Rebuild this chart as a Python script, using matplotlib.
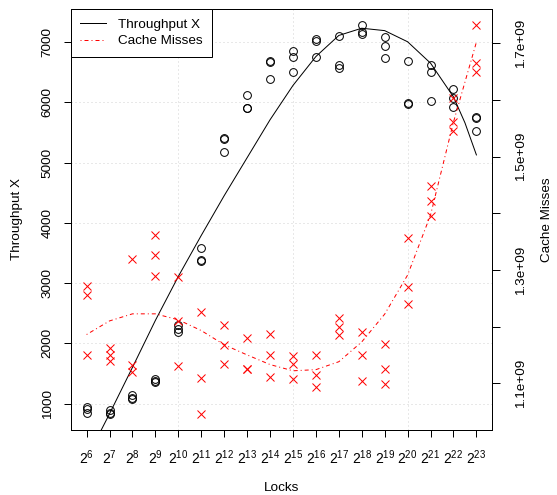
import numpy as np
import matplotlib
matplotlib.use("Agg")
import matplotlib.pyplot as plt
from matplotlib.lines import Line2D

plt.rcParams["font.family"] = ["Liberation Sans", "DejaVu Sans"]
plt.rcParams["mathtext.fontset"] = "custom"
plt.rcParams["mathtext.rm"] = "Liberation Sans"
plt.rcParams["mathtext.it"] = "Liberation Sans:italic"

# ---- data (exponent of 2 for the lock count) ----
exponents = list(range(6, 24))

throughput = [
    [950, 910, 840],      # 2^6
    [885, 850, 820],      # 2^7
    [1150, 1100, 1070],   # 2^8
    [1410, 1380, 1360],   # 2^9
    [2300, 2230, 2190],   # 2^10
    [3590, 3390, 3370],   # 2^11
    [5400, 5390, 5170],   # 2^12
    [6120, 5910, 5910],   # 2^13
    [6690, 6670, 6380],   # 2^14
    [6855, 6750, 6500],   # 2^15
    [7045, 7015, 6760],   # 2^16
    [7105, 6620, 6565],   # 2^17
    [7290, 7170, 7135],   # 2^18
    [7085, 6935, 6735],   # 2^19
    [6685, 5985, 5975],   # 2^20
    [6620, 6510, 6020],   # 2^21
    [6215, 6070, 5925],   # 2^22
    [5760, 5745, 5530],   # 2^23
]

cache_misses = [  # units of 1e9
    [1.271, 1.256, 1.149],
    [1.162, 1.149, 1.139],
    [1.320, 1.133, 1.120],
    [1.361, 1.327, 1.290],
    [1.288, 1.210, 1.131],
    [1.225, 1.110, 1.045],
    [1.203, 1.167, 1.134],
    [1.179, 1.125, 1.125],
    [1.187, 1.149, 1.111],
    [1.148, 1.134, 1.108],
    [1.149, 1.114, 1.094],
    [1.215, 1.199, 1.185],
    [1.191, 1.150, 1.104],
    [1.169, 1.125, 1.098],
    [1.357, 1.269, 1.240],
    [1.449, 1.422, 1.395],
    [1.604, 1.561, 1.545],
    [1.733, 1.665, 1.649],
]

# fitted throughput curve
fit_x = [6, 7, 8, 9, 10, 11, 12, 13, 14, 15, 16, 17, 18, 19, 20, 21, 22, 22.5, 23]
fit_y = [85, 830, 1600, 2380, 3110, 3790, 4450, 5080, 5710, 6280, 6760, 7110, 7230,
         7190, 7005, 6650, 6090, 5660, 5127]

# smoothed cache-miss curve (units of 1e9)
smooth_x = exponents
smooth_y = [1.186, 1.210, 1.2225, 1.2225, 1.212, 1.193, 1.168, 1.150, 1.133, 1.122,
            1.124, 1.138, 1.173, 1.222, 1.291, 1.397, 1.561, 1.702]

# ---- figure ----
W, H = 557, 495
fig = plt.figure(figsize=(W / 100, H / 100), dpi=100)
L, R, T, B = 71, 492, 9, 430
ax = fig.add_axes([L / W, 1 - B / H, (R - L) / W, (B - T) / H])
ax2 = ax.twinx()

px = 0.72  # one pixel in points
fs = 9.7

# throughput points
for e, vals in zip(exponents, throughput):
    ax.plot([e] * len(vals), vals, linestyle="none", marker="o", ms=5.6,
            mfc="none", mec="black", mew=px)
ax.plot(fit_x, fit_y, color="black", lw=px)

ax.set_xlim(5.32, 23.68)
ax.set_ylim(561, 7549)
ax.set_xticks(exponents)
ax.set_xticklabels([r"$\mathregular{2^{%d}}$" % e for e in exponents], fontsize=fs + 0.3)
ax.set_yticks([1000, 2000, 3000, 4000, 5000, 6000, 7000])
ax.set_yticklabels(["1000", "2000", "3000", "4000", "5000", "6000", "7000"],
                   fontsize=fs, rotation=90, va="center")
ax.tick_params(axis="x", length=5, width=px, pad=8)
ax.tick_params(axis="y", length=5, width=px, pad=7.5)

# dotted grid
for g in [10, 15, 20]:
    ax.axvline(g, color="lightgray", lw=px, ls=(0, (1, 3)), zorder=0)
for g in [1000, 2000, 3000, 4000, 5000, 6000, 7000]:
    ax.axhline(g, color="lightgray", lw=px, ls=(0, (1, 3)), zorder=0)

# cache misses
for e, vals in zip(exponents, cache_misses):
    ax2.plot([e] * len(vals), vals, linestyle="none", marker="x", ms=5.6,
             mec="red", mew=px)
ax2.plot(smooth_x, smooth_y, color="red", lw=px, ls=(0, (1, 3, 4, 3)))
ax2.set_ylim(1.0175, 1.7605)
rticks = [1.1, 1.2, 1.3, 1.4, 1.5, 1.6, 1.7]
ax2.set_yticks(rticks)
ax2.set_yticklabels(["1.1e+09", "", "1.3e+09", "", "1.5e+09", "", "1.7e+09"],
                    fontsize=fs, rotation=90, va="center")
ax2.tick_params(axis="y", length=5.5, width=px, pad=11)

for a in (ax, ax2):
    for s in a.spines.values():
        s.set_linewidth(px)

ax.set_xlabel("Locks", fontsize=fs)
ax.xaxis.set_label_coords(0.5, -(488 - B) / (B - T))
ax.xaxis.label.set_va("center")
ax.set_ylabel("Throughput X", fontsize=fs)
ax.yaxis.set_label_coords(-(L - 17) / (R - L), 0.5)
ax.yaxis.label.set_va("center")
ax2.set_ylabel("Cache Misses", fontsize=fs, rotation=90)
ax2.yaxis.set_label_coords(1 + (547 - R) / (R - L), 0.5)
ax2.yaxis.label.set_va("center")

handles = [
    Line2D([], [], color="black", lw=px),
    Line2D([], [], color="red", lw=px, ls=(0, (1, 3, 4, 3))),
]
leg = ax2.legend(handles, ["Throughput X", "Cache Misses"], loc="upper left",
                 bbox_to_anchor=(0, 1), borderaxespad=0, fontsize=fs,
                 fancybox=False, framealpha=1, edgecolor="black",
                 handlelength=1.9, handletextpad=0.9, borderpad=0.7,
                 labelspacing=0.3)
leg.get_frame().set_linewidth(px)

fig.savefig("out.png", dpi=100)
